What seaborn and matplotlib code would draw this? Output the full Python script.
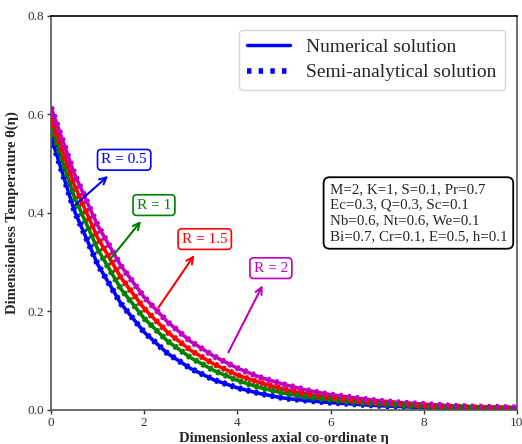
import matplotlib
matplotlib.use("Agg")
import matplotlib.pyplot as plt
from matplotlib.lines import Line2D
import numpy as np
import pandas as pd
import seaborn as sns

# values
eta = [0, 0.5, 1, 1.5, 2, 2.5, 3, 3.5, 4, 4.5, 5, 5.5, 6, 6.5, 7, 7.5, 8, 8.5, 9, 9.5, 10]
theta_r05 = [0.555, 0.405, 0.296, 0.216, 0.158, 0.115, 0.084, 0.061, 0.045, 0.033, 0.024,
             0.019, 0.015, 0.012, 0.009, 0.007, 0.005, 0.004, 0.003, 0.002, 0.001]
theta_r1 = [0.575, 0.433, 0.327, 0.246, 0.186, 0.140, 0.106, 0.080, 0.060, 0.045, 0.034,
            0.026, 0.021, 0.016, 0.012, 0.010, 0.007, 0.005, 0.004, 0.003, 0.002]
theta_r15 = [0.595, 0.457, 0.350, 0.269, 0.206, 0.158, 0.121, 0.093, 0.071, 0.055, 0.042,
             0.032, 0.025, 0.019, 0.015, 0.012, 0.009, 0.007, 0.005, 0.004, 0.003]
theta_r2 = [0.615, 0.480, 0.375, 0.293, 0.229, 0.179, 0.139, 0.109, 0.085, 0.066, 0.052,
            0.040, 0.031, 0.025, 0.019, 0.015, 0.012, 0.009, 0.007, 0.006, 0.005]

r_labels = ["R = 0.5", "R = 1", "R = 1.5", "R = 2"]
colors = ["#0000ff", "#008000", "#ff0000", "#c000c0"]
series = [theta_r05, theta_r1, theta_r15, theta_r2]

params_text = ("M=2, K=1, S=0.1, Pr=0.7\nEc=0.3, Q=0.3, Sc=0.1\n"
               "Nb=0.6, Nt=0.6, We=0.1\nBi=0.7, Cr=0.1, E=0.5, h=0.1")

df = pd.DataFrame({
    "eta": eta * 4,
    "theta": sum(series, []),
    "R": sum([[lab] * len(eta) for lab in r_labels], []),
})

sns.set_theme(style="ticks")
plt.rcParams["font.family"] = ["Liberation Serif", "DejaVu Serif"]
plt.rcParams["mathtext.fontset"] = "stix"

fig = plt.figure(figsize=(5.22, 4.44), dpi=100)
ax = fig.add_axes([0.0977, 0.0766, 0.8925, 0.8874])

pal = dict(zip(r_labels, colors))
sns.lineplot(data=df, x="eta", y="theta", hue="R", palette=pal, lw=2.6,
             ax=ax, legend=False)
for lab in r_labels:
    sub = df[df["R"] == lab]
    ax.plot(sub["eta"], sub["theta"], color=pal[lab], lw=4.4,
            linestyle=(0, (0.5, 0.85)), dash_capstyle="butt")

# annotations: (text pos, arrow base, arrow tip)
ann = [((1.57, 0.508), (0.47, 0.412), (1.27, 0.479)),
       ((2.21, 0.416), (1.22, 0.300), (1.97, 0.388)),
       ((3.30, 0.347), (2.27, 0.203), (3.11, 0.319)),
       ((4.72, 0.288), (3.78, 0.112), (4.57, 0.258))]
for lab, c, (tp, base, tip) in zip(r_labels, colors, ann):
    ax.annotate("", xy=tip, xytext=base,
                arrowprops=dict(arrowstyle="->", color=c, lw=1.5))
    ax.text(tp[0], tp[1], lab, color=c, fontsize=11, ha="center", va="center",
            bbox=dict(boxstyle="round,pad=0.25", fc="white", ec=c, lw=1.2))

ax.text(5.98, 0.40, params_text, fontsize=10.8, ha="left", va="center",
        linespacing=1.25,
        bbox=dict(boxstyle="round,pad=0.4", fc="white", ec="black", lw=1.3))

handles = [Line2D([], [], color="#0000ff", lw=2.5),
           Line2D([], [], color="#0000ff", lw=4, linestyle=(0, (0.8, 1.3)))]
ax.legend(handles, ["Numerical solution", "Semi-analytical solution"],
          loc="upper right", fontsize=14, handlelength=2.2, frameon=True,
          bbox_to_anchor=(0.995, 0.99), borderpad=0.45, labelspacing=0.4)

ax.set_xlim(0, 10)
ax.set_ylim(0, 0.8)
ax.set_xticks([0, 2, 4, 6, 8, 10])
ax.set_yticks([0.0, 0.2, 0.4, 0.6, 0.8])
ax.tick_params(labelsize=9.5, colors="#333333", length=3, width=1, pad=2)
ax.set_xlabel("Dimensionless axial co-ordinate η", fontsize=10.5,
              fontweight="bold", labelpad=2)
ax.set_ylabel("Dimensionless Temperature θ(η)", fontsize=10.5,
              fontweight="bold", labelpad=6)
for s in ["left", "bottom", "right"]:
    ax.spines[s].set_color("#555555")
    ax.spines[s].set_linewidth(1.2)
ax.spines["top"].set_color("black")
ax.spines["top"].set_linewidth(1.2)

fig.savefig("out.png", dpi=100)
